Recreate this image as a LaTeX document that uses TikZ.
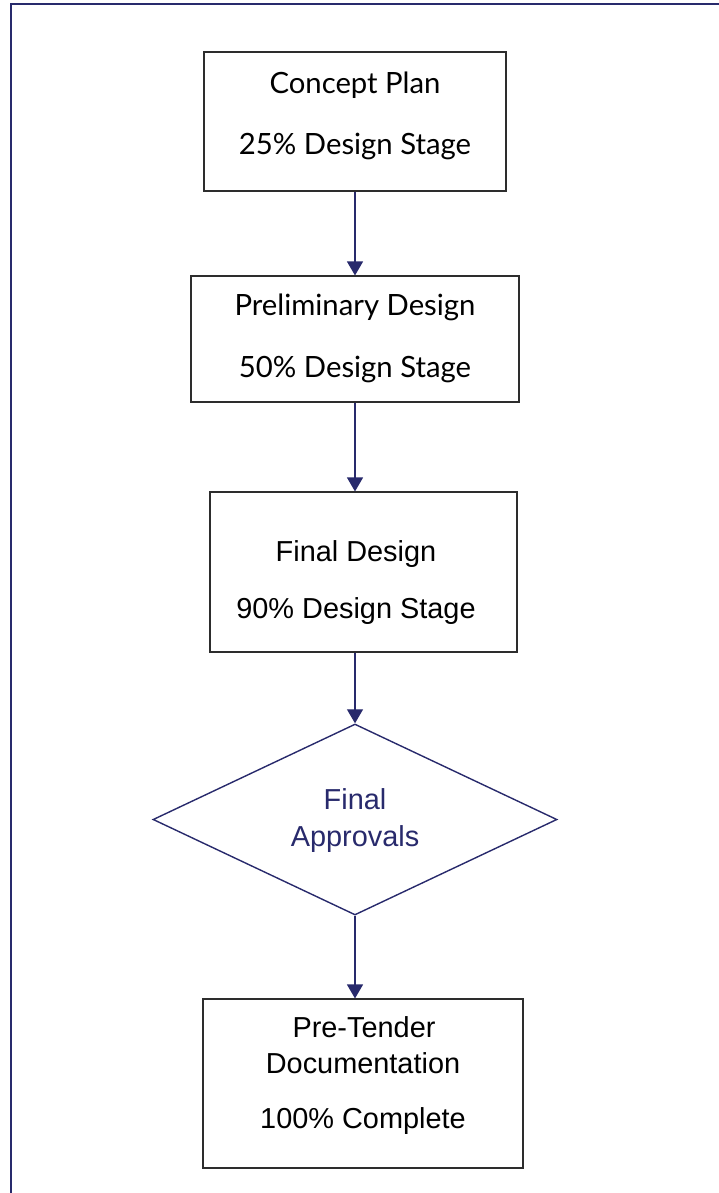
\documentclass[tikz,border=0pt]{standalone}
\usepackage{fontspec}
\setmainfont{Liberation Sans}
\newfontfamily\latofont{Lato}
\usetikzlibrary{shapes.geometric,arrows.meta}
\definecolor{navy}{RGB}{40,42,108}
\definecolor{boxline}{RGB}{45,45,45}
\begin{document}
\begin{tikzpicture}[x=1bp,y=-1bp,
  box/.style={draw=boxline,line width=1.1bp,rectangle,inner sep=0pt},
  decision/.style={draw=navy,line width=1.4bp,diamond,inner sep=0pt},
  lbl/.style={anchor=base,inner sep=0pt,font=\fontsize{29}{34}\selectfont},
  lbllato/.style={anchor=base,inner sep=0pt,font=\latofont\fontsize{29.4}{34}\selectfont},
  conn/.style={draw=navy,line width=1.2bp,-{Triangle[length=14bp,width=16bp]}}]
\useasboundingbox (0,0) rectangle (719,1193);
\draw[navy,line width=2.5bp] (11,1193) -- (11,4) -- (719,4);

% boxes
\node[box,minimum width=302bp,minimum height=139bp] (b1) at (355,121.5) {};
\node[box,minimum width=328bp,minimum height=126bp] (b2) at (355,339) {};
\node[box,minimum width=307bp,minimum height=160bp] (b3) at (363.5,572) {};
\node[decision,minimum width=404bp,minimum height=191bp] (d) at (355,819.5) {};
\node[box,minimum width=320bp,minimum height=169bp] (b5) at (363,1083.5) {};

% texts
\node[lbllato] (t1a) at (355,93) {Concept Plan};
\node[lbllato] (t1b) at (355,154) {25\% Design Stage};
\node[lbllato] (t2a) at (355,315) {Preliminary Design};
\node[lbllato] (t2b) at (355,377) {50\% Design Stage};
\node[lbl] (t3a) at (356,561) {Final Design};
\node[lbl] (t3b) at (356,618) {90\% Design Stage};
\node[lbl,text=navy] (tda) at (355,809) {Final};
\node[lbl,text=navy] (tdb) at (355,846) {Approvals};
\node[lbl] (t5a) at (364,1037) {Pre-Tender};
\node[lbl] (t5b) at (363,1073) {Documentation};
\node[lbl] (t5c) at (363,1128) {100\% Complete};

% connectors
\draw[conn] (b1.south) -- (b2.north);
\draw[conn] (b2.south) -- (b2.south |- b3.north);
\draw[conn] (b3.south -| d.north) -- (d.north);
\draw[conn] (d.south) -- (d.south |- b5.north);
\end{tikzpicture}
\end{document}
